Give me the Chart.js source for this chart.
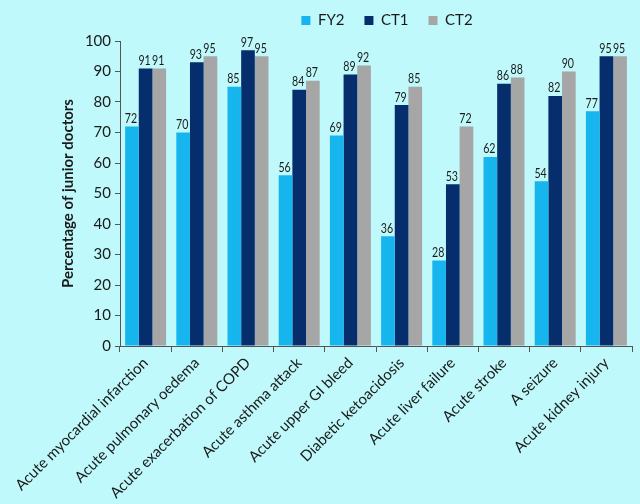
<!DOCTYPE html>
<html>
<head>
<meta charset="utf-8">
<script src="https://cdn.jsdelivr.net/npm/chart.js@4"></script>
<style>
  html, body { margin: 0; padding: 0; background: #bff9fb; }
  #wrap { width: 640px; height: 504px; }
</style>
</head>
<body>
<div id="wrap"><canvas id="chartBar" width="640" height="504"></canvas></div>
<script>
        // 항목
        let chartLabels = [
            "Acute myocardial infarction",
            "Acute pulmonary oedema",
            "Acute exacerbation of COPD",
            "Acute asthma attack",
            "Acute upper GI bleed",
            "Diabetic ketoacidosis",
            "Acute liver failure",
            "Acute stroke",
            "A seizure",
            "Acute kidney injury"
        ];

        let dataFY2 = [72, 70, 85, 56, 69, 36, 28, 62, 54, 77];
        let dataCT1 = [91, 93, 97, 84, 89, 79, 53, 86, 82, 95];
        let dataCT2 = [91, 95, 95, 87, 92, 85, 72, 88, 90, 95];

        let yTicks = [0, 10, 20, 30, 40, 50, 60, 70, 80, 90, 100];

        const fontFam = "Lato, 'Open Sans', sans-serif";

        // 막대 위 숫자 (살짝 좁게)
        const barValuePlugin = {
            id: "barValue",
            afterDatasetsDraw(chart){
                const ctx = chart.ctx;
                ctx.save();
                ctx.font = "14px " + fontFam;
                ctx.fillStyle = "#1a1a1a";
                ctx.textAlign = "center";
                ctx.textBaseline = "bottom";
                chart.data.datasets.forEach((ds, i) => {
                    const meta = chart.getDatasetMeta(i);
                    meta.data.forEach((bar, j) => {
                        ctx.save();
                        ctx.translate(bar.x - 1, bar.y - 1);
                        ctx.scale(0.76, 1);
                        ctx.fillText(ds.data[j], 0, 0);
                        ctx.restore();
                    });
                });
                ctx.restore();
            }
        };

        // 범례 위치 / 높이 조정
        const legendShiftPlugin = {
            id: "legendShift",
            afterInit(chart){
                const lg = chart.legend;
                if(lg){
                    const orgFit = lg.fit;
                    lg.fit = function(){
                        orgFit.call(this);
                        this.height = this.height - 4;
                    };
                }
            },
            afterLayout(chart){
                const lg = chart.legend;
                if(lg){
                    lg.left += 11;
                    lg.right += 11;
                    lg.top -= 7;
                    lg.bottom -= 7;
                }
            }
        };

        function setChart(){
            var area = document.getElementById("chartBar").getContext("2d");

            new Chart(area, {
                type : "bar",
                data : {
                    labels: chartLabels,
                    datasets: [
                        { label: "FY2", data: dataFY2, backgroundColor: "#17b5ee" },
                        { label: "CT1", data: dataCT1, backgroundColor: "#062d6c" },
                        { label: "CT2", data: dataCT2, backgroundColor: "#a6a6a6" }
                    ]
                },
                options: {
                    responsive: false,
                    animation: false,
                    layout: { padding: { top: 0, right: 8, left: 0, bottom: 0 } },
                    datasets: {
                        bar: { categoryPercentage: 0.8, barPercentage: 1.0 }
                    },
                    plugins: {
                        legend: {
                            position: "top",
                            fullSize: false,
                            labels: {
                                boxWidth: 9,
                                boxHeight: 9,
                                padding: 20,
                                color: "#1a1a1a",
                                font: { family: fontFam, size: 15 }
                            }
                        },
                        tooltip: { enabled: false }
                    },
                    scales: {
                        x: {
                            border: { color: "#555", width: 1 },
                            grid: { drawOnChartArea: false, drawTicks: true, tickLength: 6, color: "#555" },
                            ticks: {
                                color: "#1a1a1a",
                                font: { family: fontFam, size: 15 },
                                minRotation: 45,
                                maxRotation: 45,
                                padding: 2
                            },
                            afterFit(axis){
                                axis.height = 158;
                            }
                        },
                        y: {
                            min: 0,
                            max: 100,
                            border: { color: "#555", width: 1 },
                            grid: { drawOnChartArea: false, drawTicks: true, tickLength: 5, color: "#555" },
                            afterBuildTicks(axis){
                                axis.ticks = yTicks.map(v => ({ value: v }));
                            },
                            afterFit(axis){
                                axis.width = 120;
                            },
                            ticks: {
                                color: "#1a1a1a",
                                font: { family: fontFam, size: 15 },
                                padding: 4
                            },
                            title: {
                                display: true,
                                text: "Percentage of junior doctors",
                                color: "#1a1a1a",
                                font: { family: fontFam, size: 15, weight: "bold" },
                                padding: { top: 59, bottom: 0 }
                            }
                        }
                    }
                },
                plugins: [barValuePlugin, legendShiftPlugin]
            });
        }

        setChart();
</script>
</body>
</html>
